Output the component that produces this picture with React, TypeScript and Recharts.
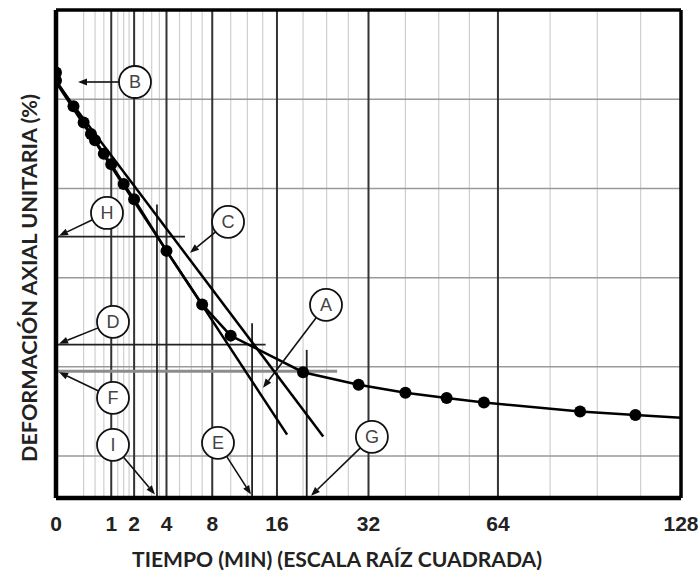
import React from "react";
import {
  ComposedChart,
  Line,
  XAxis,
  YAxis,
  ReferenceLine,
  ReferenceDot,
} from "recharts";

// ── Data (x: time in minutes, y: axial strain in grid units, downward) ──

const readTime = [0, 0, 0.1, 0.25, 0.4, 0.5, 0.75, 1, 1.5, 2, 4, 7, 10, 20, 30, 40, 50, 60, 90, 110];
const readStrain = [0.7, 0.79, 1.08, 1.26, 1.39, 1.46, 1.61, 1.73, 1.95, 2.12, 2.7, 3.3, 3.65, 4.06, 4.2, 4.29, 4.35, 4.4, 4.5, 4.54];
const curveEndTime = 128;
const curveEndStrain = 4.57;

// the two straight construction lines (second one has 1.15x the abscissa)
const firstLineTime = [0, 17.5];
const firstLineStrain = [0.81, 4.76];
const secondLineTime = [0, 23.4];
const secondLineStrain = [0.81, 4.78];

const xTicks = [0, 1, 2, 4, 8, 16, 32, 64, 128];
const minorX = [0.25, 0.5, 0.75, 1.25, 1.5, 1.75, 2.5, 3, 3.5, 5, 6, 7, 10, 12, 14, 20, 24, 28, 40, 48, 56, 80, 96, 112];
const gridY = [1, 2, 3, 4, 5];
const yMax = 5.47;

// horizontal marker lines H, D, F
const hMarkStrain = [2.54, 3.75, 4.05];
const hMarkEnd = [5.45, 14.4, 25.9];

// vertical marker lines I, E, G
const vMarkTime = [3.34, 12.6, 20.6];
const vMarkTop = [2.18, 3.51, 3.81];

// callouts
const calloutLetter = ["B", "H", "C", "D", "F", "I", "E", "A", "G"];
const calloutTime = [2.045, 0.852, 9.7, 1.065, 1.065, 1.065, 8.6, 23.89, 32.7];
const calloutStrain = [0.807, 2.275, 2.375, 3.496, 4.347, 4.874, 4.852, 3.305, 4.784];
const tipTime = [0.159, 0.003, 5.88, 0.003, 0.003, 3.21, 12.46, 14.04, 21.31];
const tipStrain = [0.807, 2.53, 2.72, 3.74, 4.06, 5.43, 5.43, 4.235, 5.445];

const readings = readTime.map((t, i) => ({ t, d: readStrain[i] }));
const curve = [...readings, { t: curveEndTime, d: curveEndStrain }];
const firstLine = firstLineTime.map((t, i) => ({ t, d: firstLineStrain[i] }));
const secondLine = secondLineTime.map((t, i) => ({ t, d: secondLineStrain[i] }));

const CIRCLE_R = 16;

function Arrow(p: any) {
  const { x1, y1, x2, y2 } = p;
  const dx = x2 - x1;
  const dy = y2 - y1;
  const len = Math.hypot(dx, dy) || 1;
  const ux = dx / len;
  const uy = dy / len;
  const sx = x1 + ux * CIRCLE_R;
  const sy = y1 + uy * CIRCLE_R;
  const hx = x2 - ux * 9;
  const hy = y2 - uy * 9;
  const px = -uy * 3.5;
  const py = ux * 3.5;
  return (
    <g>
      <line x1={sx} y1={sy} x2={hx} y2={hy} stroke="#111" strokeWidth={1.6} />
      <polygon
        points={`${x2},${y2} ${hx + px},${hy + py} ${hx - px},${hy - py}`}
        fill="#111"
      />
    </g>
  );
}

const titleFont = "Lato, 'Open Sans', sans-serif";

function XTitle(props: any) {
  const vb = props.viewBox;
  return (
    <text
      x={vb.x + 281}
      y={vb.y + 69}
      textAnchor="middle"
      fontFamily={titleFont}
      fontWeight={700}
      fontSize={21}
      fill="#222"
      textLength={410}
      lengthAdjust="spacingAndGlyphs"
    >
      TIEMPO (MIN) (ESCALA RAÍZ CUADRADA)
    </text>
  );
}

function YTitle(props: any) {
  const vb = props.viewBox;
  const cx = vb.x + 28;
  const cy = 278;
  return (
    <text
      x={cx}
      y={cy}
      transform={`rotate(-90 ${cx} ${cy})`}
      textAnchor="middle"
      dominantBaseline="central"
      fontFamily={titleFont}
      fontWeight={700}
      fontSize={21}
      fill="#222"
      textLength={368}
      lengthAdjust="spacingAndGlyphs"
    >
      DEFORMACIÓN AXIAL UNITARIA (%)
    </text>
  );
}

export default function App() {
  return (
    <div style={{ width: 698, height: 578, background: "#fff", fontFamily: "'Liberation Sans', Arial, sans-serif" }}>
      <style>{"body{margin:0}"}</style>
      <ComposedChart
        width={698}
        height={578}
        margin={{ top: 10, right: 17, bottom: 40, left: 0 }}
      >
        <XAxis
          dataKey="t"
          type="number"
          scale="sqrt"
          domain={[0, 128]}
          ticks={xTicks}
          allowDataOverflow
          axisLine={false}
          tickLine={false}
          tickSize={0}
          tickMargin={18}
          height={40}
          interval={0}
          tick={{ fontSize: 21, fontWeight: 700, fill: "#222", fontFamily: "'Liberation Sans', Arial, sans-serif" }}
          label={{ content: XTitle }}
        />
        <YAxis
          dataKey="d"
          type="number"
          domain={[0, yMax]}
          reversed
          allowDataOverflow
          width={56}
          tick={false}
          axisLine={false}
          tickLine={false}
          label={{ content: YTitle }}
        />

        {minorX.map((v) => (
          <ReferenceLine key={`mx${v}`} x={v} stroke="#cfcfcf" strokeWidth={1.2} />
        ))}
        {gridY.map((v) => (
          <ReferenceLine key={`gy${v}`} y={v} stroke="#9a9a9a" strokeWidth={1.5} />
        ))}
        {xTicks.slice(1, -1).map((v) => (
          <ReferenceLine key={`Mx${v}`} x={v} stroke="#333" strokeWidth={2} />
        ))}

        {hMarkStrain.map((y, i) => (
          <ReferenceLine
            key={`h${i}`}
            segment={[{ x: 0, y }, { x: hMarkEnd[i], y }]}
            stroke={i === 2 ? "#8c8c8c" : "#222"}
            strokeWidth={i === 2 ? 3 : 1.8}
          />
        ))}
        {vMarkTime.map((x, i) => (
          <ReferenceLine
            key={`v${i}`}
            segment={[{ x, y: vMarkTop[i] }, { x, y: yMax }]}
            stroke="#222"
            strokeWidth={1.8}
          />
        ))}

        <Line
          data={firstLine}
          dataKey="d"
          stroke="#000"
          strokeWidth={2.5}
          dot={false}
          isAnimationActive={false}
        />
        <Line
          data={secondLine}
          dataKey="d"
          stroke="#000"
          strokeWidth={2.5}
          dot={false}
          isAnimationActive={false}
        />
        <Line
          data={curve}
          dataKey="d"
          stroke="#000"
          strokeWidth={2.5}
          dot={false}
          isAnimationActive={false}
        />
        <Line
          data={readings}
          dataKey="d"
          stroke="none"
          dot={{ r: 6, fill: "#000", stroke: "none" }}
          isAnimationActive={false}
        />

        {calloutLetter.map((l, i) => (
          <ReferenceLine
            key={`a${l}`}
            segment={[
              { x: calloutTime[i], y: calloutStrain[i] },
              { x: tipTime[i], y: tipStrain[i] },
            ]}
            shape={Arrow}
          />
        ))}
        {calloutLetter.map((l, i) => (
          <ReferenceDot
            key={`c${l}`}
            x={calloutTime[i]}
            y={calloutStrain[i]}
            r={CIRCLE_R}
            fill="#fff"
            stroke="#111"
            strokeWidth={1.8}
            label={{ value: l, position: "center", fill: "#444", fontSize: 18 }}
          />
        ))}

        {/* plot frame */}
        <ReferenceLine x={0} ifOverflow="visible" stroke="#000" strokeWidth={4.5} />
        <ReferenceLine x={128} ifOverflow="visible" stroke="#000" strokeWidth={3.5} />
        <ReferenceLine y={0} ifOverflow="visible" stroke="#000" strokeWidth={3.5} />
        <ReferenceLine y={yMax} ifOverflow="visible" stroke="#000" strokeWidth={4.5} />
      </ComposedChart>
    </div>
  );
}
